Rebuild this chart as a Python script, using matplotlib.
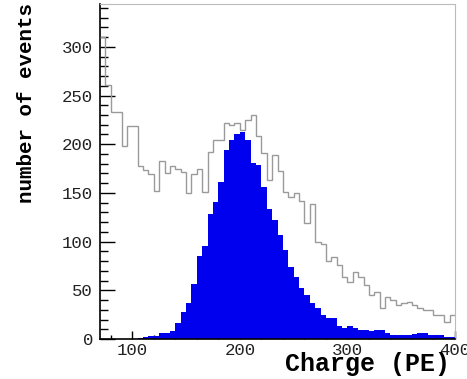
import numpy as np
import matplotlib
matplotlib.use("Agg")
import matplotlib.pyplot as plt
from matplotlib.ticker import MultipleLocator

# charge histograms, 5 PE bins starting at 70 PE
bin_start = 70
bin_width = 5

# all events (open grey histogram)
all_events = [310, 261, 233, 233, 198, 219, 219, 178, 174, 169,
              152, 183, 170, 178, 175, 172, 150, 169, 175, 151,
              192, 204, 204, 222, 220, 222, 215, 225, 230, 208,
              191, 163, 189, 173, 151, 146, 150, 142, 119, 139,
              100, 98, 80, 84, 76, 64, 59, 69, 64, 55,
              45, 48, 32, 43, 40, 35, 37, 38, 35, 32,
              30, 30, 25, 25, 17, 25]

# selected events (filled blue histogram)
selected = [0, 0, 0, 0, 0, 0, 0, 1, 2, 3,
            3, 6, 6, 8, 16, 28, 37, 56, 85, 95,
            128, 141, 161, 194, 204, 211, 213, 204, 181, 179,
            156, 133, 122, 107, 91, 74, 64, 52, 45, 37,
            32, 25, 22, 22, 13, 11, 13, 11, 9, 9,
            8, 9, 9, 6, 4, 4, 4, 4, 5, 6,
            6, 4, 4, 4, 2, 2]

xticks = [100, 200, 300, 400]
yticks = [0, 50, 100, 150, 200, 250, 300]

edges = bin_start + bin_width * np.arange(len(all_events) + 1)

fig = plt.figure(figsize=(4.67, 3.79), dpi=100)
ax = fig.add_axes([100 / 467, 40 / 379, 355 / 467, 335 / 379])

ax.stairs(selected, edges, fill=True, color='#0000ee', zorder=2)
ax.stairs(all_events, edges, baseline=None, color='#9a9a9a', lw=1.0, zorder=3)

ax.set_xlim(70, 400)
ax.set_ylim(0, 344)

ax.set_xticks(xticks)
ax.set_yticks(yticks)
ax.xaxis.set_minor_locator(MultipleLocator(20))
ax.yaxis.set_minor_locator(MultipleLocator(10))
ax.tick_params(axis='y', which='major', direction='in', length=11, width=1, pad=5)
ax.tick_params(axis='y', which='minor', direction='in', length=6, width=1)
ax.tick_params(axis='x', which='major', direction='in', length=6, width=1, pad=3)
ax.tick_params(axis='x', which='minor', direction='in', length=3, width=1)

for lab in ax.get_xticklabels() + ax.get_yticklabels():
    lab.set_family('Liberation Mono')
    lab.set_fontsize(12.5)
    lab.set_color('#222222')

for side in ['top', 'right']:
    ax.spines[side].set_color('#bbbbbb')
ax.spines['left'].set_linewidth(1.2)
ax.spines['bottom'].set_linewidth(1.2)

fig.text(27 / 467, 1 - 3 / 379, 'number of events', rotation=90,
         ha='center', va='top', family='Liberation Mono',
         fontweight='bold', fontsize=15)
fig.text(450 / 467, 1 - 371 / 379, 'Charge (PE)', ha='right', va='baseline',
         family='Liberation Mono', fontweight='bold', fontsize=18)

fig.savefig('out.png', dpi=100)
